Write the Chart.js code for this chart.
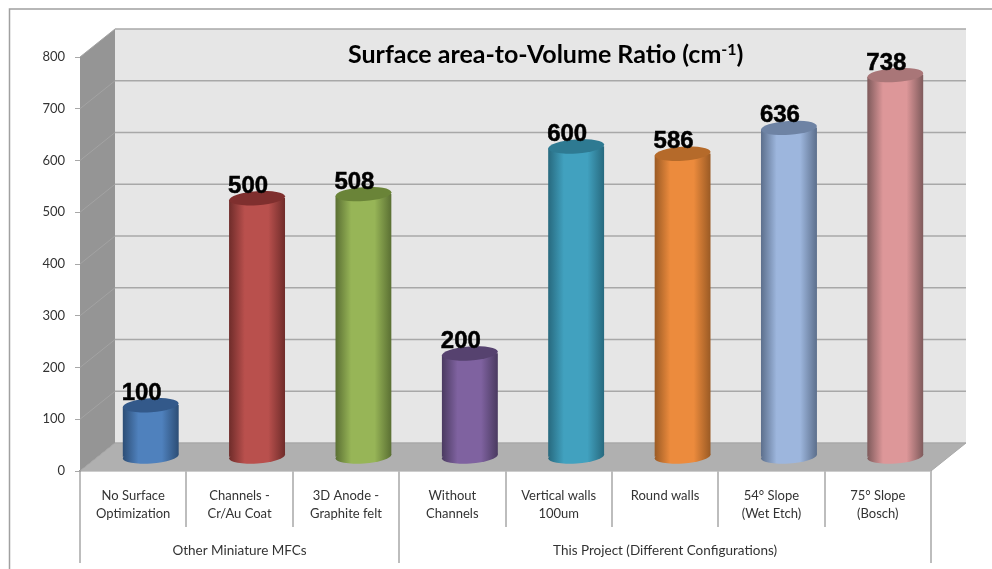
<!DOCTYPE html>
<html>
<head>
<meta charset="utf-8">
<title>Surface area-to-Volume Ratio</title>
<script src="https://cdn.jsdelivr.net/npm/chart.js@4/dist/chart.umd.min.js"></script>
<style>
    html, body { margin: 0; padding: 0; background: #fff; }
    #wrap { width: 992px; height: 569px; }
</style>
</head>
<body>
<div id="wrap"><canvas id="ratioChart" width="992" height="569"></canvas></div>
<script>
const categories = [
    ['No Surface', 'Optimization'],
    ['Channels -', 'Cr/Au Coat'],
    ['3D Anode -', 'Graphite felt'],
    ['Without', 'Channels'],
    ['Vertical walls', '100um'],
    ['Round walls'],
    ['54° Slope', '(Wet Etch)'],
    ['75° Slope', '(Bosch)']
];
const groupLabels = ['', 'Other Miniature MFCs', '', '', '', 'This Project (Different Configurations)', '', ''];
const groupEdges = [0, 3];
const ratioValues = [100, 500, 508, 200, 600, 586, 636, 738];
const yTicks = [0, 100, 200, 300, 400, 500, 600, 700, 800];

// [middle, edge, lid]
const barColors = [
    ['#4f81bd', '#2c4d75', '#33598a'],
    ['#b9504d', '#6f2c2a', '#7f2f2e'],
    ['#97b557', '#5a6f33', '#6a8438'],
    ['#7f62a0', '#4a3a60', '#56426f'],
    ['#41a1bf', '#27697e', '#2e7a92'],
    ['#ec8b3d', '#9a5a24', '#b56a2a'],
    ['#9db6dd', '#5c6f8c', '#6e83a4'],
    ['#dd9799', '#7e5a5b', '#a97678']
];

// depth of the 3D box, bars stand halfway into it
const depthX = 35, depthY = 28;
const barWidth = 56, ellipseRy = 7, ellipseTilt = -0.07;

function cylinderFill(ctx) {
    // also called once per dataset, without an index
    if (ctx.dataIndex === undefined) return '#888';
    const c = barColors[ctx.dataIndex];
    const x = ctx.chart.scales.x.getPixelForValue(ctx.dataIndex);
    if (!isFinite(x)) return c[0];
    const g = ctx.chart.ctx.createLinearGradient(x - barWidth / 2, 0, x + barWidth / 2, 0);
    g.addColorStop(0, c[1]);
    g.addColorStop(0.28, c[0]);
    g.addColorStop(0.7, c[0]);
    g.addColorStop(1, c[1]);
    return g;
}

const box3d = {
    id: 'box3d',
    beforeDraw(chart) {
        // outer frame, open to the right and bottom
        const ctx = chart.ctx;
        ctx.save();
        ctx.strokeStyle = '#a0a0a0';
        ctx.lineWidth = 1.5;
        ctx.beginPath();
        ctx.moveTo(9.5, 569);
        ctx.lineTo(9.5, 9);
        ctx.lineTo(992, 9);
        ctx.stroke();
        ctx.restore();
    },
    beforeDatasetsDraw(chart) {
        const { ctx, chartArea: a, scales: { y } } = chart;
        ctx.save();
        // back wall
        ctx.fillStyle = '#e6e6e6';
        ctx.fillRect(a.left + depthX, a.top - depthY, a.width, a.height);
        // side wall
        ctx.fillStyle = '#959595';
        ctx.beginPath();
        ctx.moveTo(a.left, a.top);
        ctx.lineTo(a.left + depthX, a.top - depthY);
        ctx.lineTo(a.left + depthX, a.bottom - depthY);
        ctx.lineTo(a.left, a.bottom);
        ctx.fill();
        // floor
        ctx.fillStyle = '#b0b0b0';
        ctx.beginPath();
        ctx.moveTo(a.left, a.bottom);
        ctx.lineTo(a.left + depthX, a.bottom - depthY);
        ctx.lineTo(a.right + depthX, a.bottom - depthY);
        ctx.lineTo(a.right, a.bottom);
        ctx.fill();
        // gridlines run along the side wall then across the back
        yTicks.forEach(v => {
            const py = y.getPixelForValue(v);
            ctx.lineWidth = 1;
            ctx.strokeStyle = '#a3a3a3';
            ctx.beginPath();
            ctx.moveTo(a.left, py);
            ctx.lineTo(a.left + depthX, py - depthY);
            ctx.stroke();
            ctx.lineWidth = 1.5;
            ctx.strokeStyle = '#a8a8a8';
            ctx.beginPath();
            ctx.moveTo(a.left + depthX, py - depthY);
            ctx.lineTo(a.right + depthX, py - depthY);
            ctx.stroke();
        });
        // right edge of the floor
        ctx.lineWidth = 1;
        ctx.strokeStyle = '#a8a8a8';
        ctx.beginPath();
        ctx.moveTo(a.right, a.bottom);
        ctx.lineTo(a.right + depthX, a.bottom - depthY);
        ctx.stroke();
        ctx.restore();
    },
    beforeDatasetDraw(chart) {
        const ctx = chart.ctx;
        const tiltY = Math.sin(ellipseTilt) * barWidth / 2;
        ctx.save();
        ctx.translate(depthX / 2, -depthY / 2);
        // slant the flat bar ends so they meet the tilted ellipses
        ctx.save();
        ctx.beginPath();
        chart.getDatasetMeta(0).data.forEach(el => {
            const r = el.width / 2;
            ctx.moveTo(el.x - r, el.y - tiltY);
            ctx.lineTo(el.x + r, el.y + tiltY);
            ctx.lineTo(el.x + r, el.base + tiltY);
            ctx.lineTo(el.x - r, el.base - tiltY);
            ctx.closePath();
        });
        ctx.clip();
    },
    afterDatasetDraw(chart) {
        const ctx = chart.ctx;
        const bars = chart.getDatasetMeta(0).data;
        ctx.restore();
        // round bottom, then lid and value label on each bar
        bars.forEach((el, i) => {
            const r = el.width / 2;
            ctx.fillStyle = cylinderFill({ chart, dataIndex: i });
            ctx.beginPath();
            ctx.ellipse(el.x, el.base, r, ellipseRy, ellipseTilt, 0, Math.PI * 2);
            ctx.fill();
            ctx.fillStyle = barColors[i][2];
            ctx.beginPath();
            ctx.ellipse(el.x, el.y, r, ellipseRy, ellipseTilt, 0, Math.PI * 2);
            ctx.fill();
        });
        ctx.font = 'bold 24px "Liberation Sans"';
        ctx.textAlign = 'center';
        ctx.textBaseline = 'middle';
        ctx.fillStyle = '#000';
        ctx.strokeStyle = '#000';
        ctx.lineWidth = 0.5;
        bars.forEach((el, i) => {
            ctx.fillText(String(ratioValues[i]), el.x - 9, el.y - 12);
            ctx.strokeText(String(ratioValues[i]), el.x - 9, el.y - 12);
        });
        ctx.restore();
    },
    afterDatasetsDraw(chart) {
        // title with a raised -1
        const ctx = chart.ctx;
        const title = 'Surface area-to-Volume Ratio (cm';
        const sup = '-1';
        ctx.save();
        ctx.fillStyle = '#000';
        ctx.textBaseline = 'alphabetic';
        ctx.textAlign = 'left';
        ctx.font = 'bold 25px Lato';
        let x = 348;
        ctx.fillText(title, x, 63);
        x += ctx.measureText(title).width;
        ctx.font = 'bold 16px Lato';
        ctx.fillText(sup, x, 55);
        x += ctx.measureText(sup).width;
        ctx.font = 'bold 25px Lato';
        ctx.fillText(')', x, 63);
        ctx.restore();
    }
};

new Chart(document.getElementById('ratioChart'), {
    type: 'bar',
    data: {
        labels: categories,
        datasets: [{
            data: ratioValues,
            backgroundColor: cylinderFill,
            barThickness: barWidth,
            clip: false
        }]
    },
    plugins: [box3d],
    options: {
        responsive: false,
        animation: false,
        layout: { padding: { top: 57, right: 61 } },
        plugins: { legend: { display: false }, tooltip: { enabled: false } },
        scales: {
            y: {
                min: 0,
                max: 800,
                afterBuildTicks(scale) { scale.ticks = yTicks.map(value => ({ value })); },
                afterFit(scale) { scale.width = 80; },
                ticks: { color: '#333', padding: 10, font: { family: 'Lato', size: 13 } },
                grid: { drawOnChartArea: false, color: '#a8a8a8', tickLength: 5 },
                border: { color: '#a8a8a8' }
            },
            x: {
                weight: 0,
                offset: true,
                afterFit(scale) { scale.height = 56; },
                ticks: { autoSkip: false, maxRotation: 0, color: '#333', padding: -40, font: { family: 'Lato', size: 13, lineHeight: 1.4 } },
                grid: { offset: true, drawOnChartArea: false, color: '#bdbdbd', lineWidth: 2, tickLength: 56 },
                border: { color: '#9c9c9c', width: 1.5 }
            },
            x2: {
                type: 'category',
                position: 'bottom',
                weight: 1,
                offset: true,
                labels: groupLabels,
                afterFit(scale) { scale.height = 42; },
                ticks: { autoSkip: false, maxRotation: 0, color: '#333', padding: -20, font: { family: 'Lato', size: 13.5 } },
                grid: {
                    offset: true,
                    drawOnChartArea: false,
                    tickLength: 36,
                    lineWidth: 2,
                    color: ctx => (ctx.index === undefined || groupEdges.includes(ctx.index)) ? '#bdbdbd' : 'rgba(0,0,0,0)'
                },
                border: { display: false }
            }
        }
    }
});
</script>
</body>
</html>
